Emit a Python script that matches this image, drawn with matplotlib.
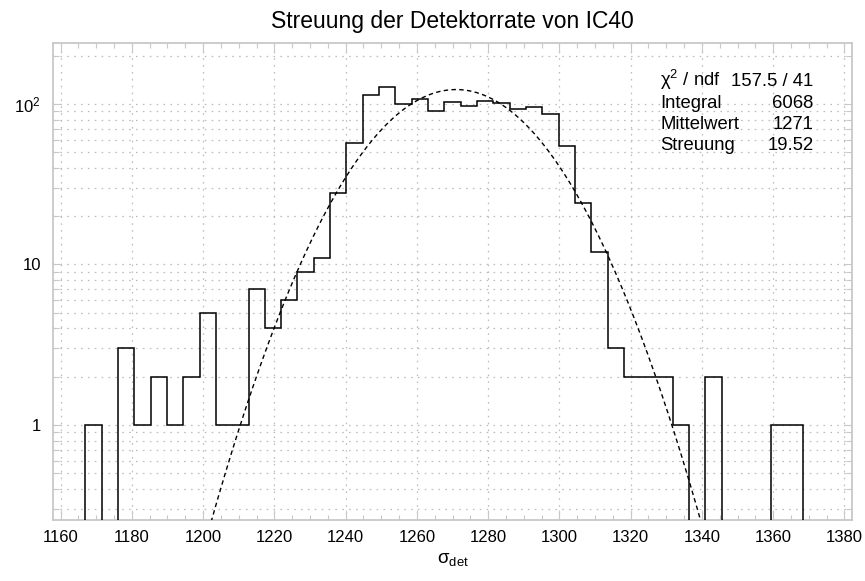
import numpy as np
import matplotlib
matplotlib.use('Agg')
import matplotlib.pyplot as plt
from matplotlib.ticker import FixedLocator, FixedFormatter, NullFormatter

plt.rcParams['font.family'] = ['Liberation Sans', 'DejaVu Sans']
plt.rcParams['mathtext.fontset'] = 'custom'
plt.rcParams['mathtext.rm'] = 'Liberation Sans'
plt.rcParams['mathtext.it'] = 'Liberation Sans:italic'
plt.rcParams['mathtext.bf'] = 'Liberation Sans:bold'
plt.rcParams['mathtext.default'] = 'regular'

# Histogram of the detector-rate spread (49 bins)
x_low, x_high = 1157.8, 1382.2
counts = [0, 0, 1, 0, 3, 1, 2, 1, 2, 5,
          1, 1, 7, 4, 6, 9, 11, 28, 57, 114,
          127, 100, 108, 90, 103, 97, 104, 101, 93, 96,
          86, 55, 24, 12, 3, 2, 2, 2, 1, 0,
          2, 0, 0, 0, 1, 1, 0, 0, 0]

# Gaussian fit parameters
fit_amp = 123.0
fit_mean = 1271.0
fit_sigma = 19.52

stats_labels = [r'$\chi^{2}$ / ndf', 'Integral', 'Mittelwert', 'Streuung']
stats_values = ['157.5 / 41', '6068', '1271', '19.52']

x_major = list(range(1160, 1381, 20))
x_minor = list(range(1160, 1381, 5))
y_major = [1, 10, 100]
y_major_labels = ['1', '10', r'$10^{2}$']
y_minor = [0.3, 0.4, 0.5, 0.6, 0.7, 0.8, 0.9,
           2, 3, 4, 5, 6, 7, 8, 9,
           20, 30, 40, 50, 60, 70, 80, 90, 200]
y_low, y_high = 0.256, 238.8

W, H = 865, 581
fig = plt.figure(figsize=(W / 100, H / 100), dpi=100)
ax = fig.add_axes([52.7 / W, 1 - 520 / H, (852.3 - 52.7) / W, (520 - 43.3) / H])

frame_col = '#c8c8c8'
grid_col = '#bdbdbd'

edges = np.linspace(x_low, x_high, len(counts) + 1)
ax.set_yscale('log')
ax.stairs(counts, edges, baseline=None, color='black', linewidth=1.1, zorder=3)

xf = np.linspace(x_low, x_high, 1500)
yf = fit_amp * np.exp(-0.5 * ((xf - fit_mean) / fit_sigma) ** 2)
ax.plot(xf, yf, color='black', linewidth=1.0, linestyle=(0, (3.2, 2.4)), zorder=4)

ax.set_xlim(x_low, x_high)
ax.set_ylim(y_low, y_high)

ax.xaxis.set_major_locator(FixedLocator(x_major))
ax.xaxis.set_minor_locator(FixedLocator(x_minor))
ax.yaxis.set_major_locator(FixedLocator(y_major))
ax.yaxis.set_major_formatter(FixedFormatter(y_major_labels))
ax.yaxis.set_minor_locator(FixedLocator(y_minor))
ax.yaxis.set_minor_formatter(NullFormatter())

ax.xaxis.grid(True, which='major', color=grid_col, linestyle=(0, (1.3, 4.2)), linewidth=0.9)
ax.yaxis.grid(True, which='both', color=grid_col, linestyle=(0, (1.3, 4.2)), linewidth=0.9)
ax.set_axisbelow(True)

ax.tick_params(axis='both', which='both', direction='in', top=True, right=True,
               color=frame_col, width=0.8, labelsize=12, labelcolor='black')
ax.tick_params(axis='x', which='major', length=7, pad=7)
ax.tick_params(axis='x', which='minor', length=3.5)
ax.tick_params(axis='y', which='major', length=5.5, pad=8.5)
ax.tick_params(axis='y', which='minor', length=4.5)
for sp in ax.spines.values():
    sp.set_color(frame_col)
    sp.set_linewidth(1.3)

fig.text(452.5 / W, 1 - 563 / H, r'$\sigma_{det}$', ha='center', va='baseline', fontsize=13.5)
fig.text(452.5 / W, 1 - 28 / H, 'Streuung der Detektorrate von IC40',
         ha='center', va='baseline', fontsize=16.5)

baselines = [86.3, 107.6, 128.9, 150.2]
for lab, val, yb in zip(stats_labels, stats_values, baselines):
    fig.text(660 / W, 1 - yb / H, lab, ha='left', va='baseline', fontsize=13.3)
    fig.text(813.3 / W, 1 - yb / H, val, ha='right', va='baseline', fontsize=13.3)

fig.savefig('out.png', dpi=100)
